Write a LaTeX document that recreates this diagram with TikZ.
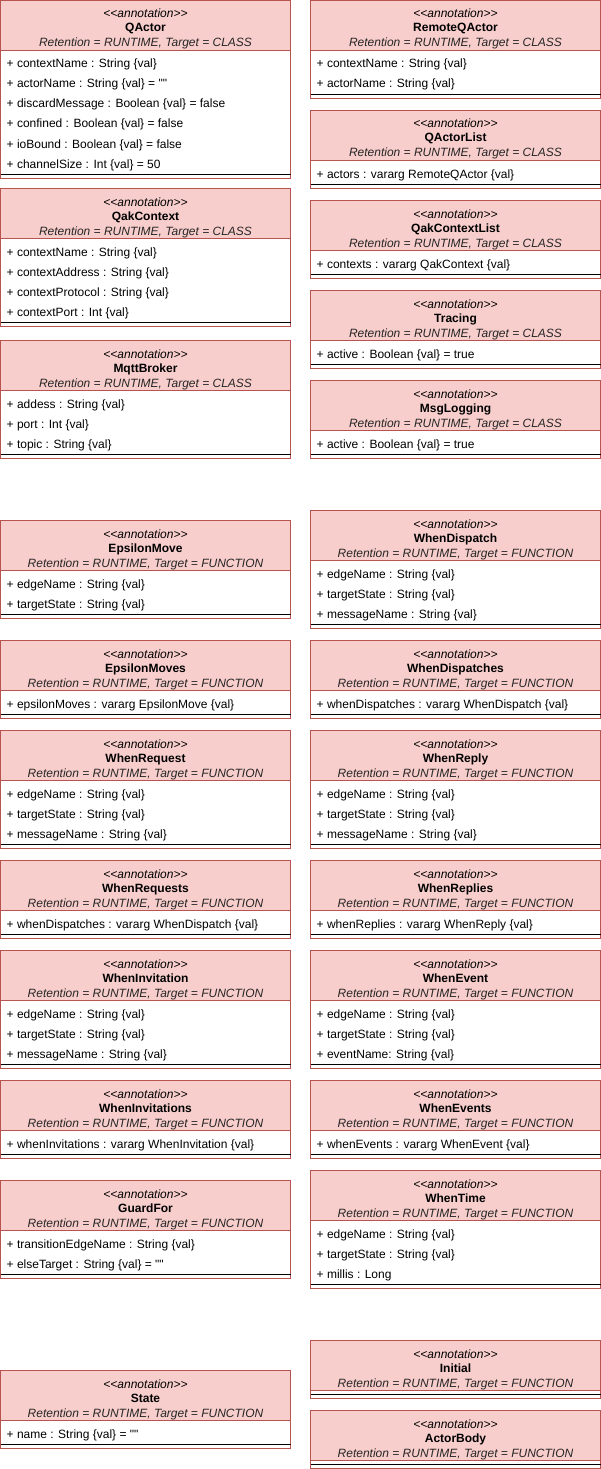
\documentclass[tikz,border=0pt]{standalone}
\usepackage{fontspec}
\setmainfont{Liberation Sans}[Ligatures=TeXOff]
\usepackage{tikz}
\usetikzlibrary{positioning}
\definecolor{annored}{HTML}{B85450}
\definecolor{annopink}{HTML}{F8CECC}
\tikzset{
    annobody/.style={draw=annored, fill=white, line width=1pt, minimum width=290pt, inner sep=0pt, outer sep=0pt},
    annohead/.style={draw=annored, fill=annopink, line width=1pt, minimum width=290pt, minimum height=50pt, inner sep=0pt, outer sep=0pt},
    annostereo/.style={anchor=base, inner sep=0pt, font=\fontsize{12}{14}\selectfont\itshape},
    annoname/.style={anchor=base, inner sep=0pt, font=\fontsize{12}{14}\selectfont\bfseries},
    annotag/.style={anchor=base, inner sep=0pt, text=black!85, font=\fontsize{12}{14}\selectfont\itshape},
    annorow/.style={anchor=base west, inner sep=0pt, font=\fontsize{12}{14}\selectfont},
    annosep/.style={draw=black, line width=1pt},
}
% #1 name, #2 x, #3 y, #4 title, #5 target, #6 number of rows, #7 rows
\newcommand{\annobox}[7]{%
\begin{scope}[shift={(#2,#3)}]
	\pgfmathsetmacro\boxh{58+20*#6}
	\node[annobody, minimum height=\boxh pt] (#1-body) at (145,\boxh/2) {};
	\node[annohead] (#1) at (145,25) {};
	\node[annostereo] (#1-st) at (145,17.5) {<<annotation>>};
	\node[annoname] (#1-name) at (145,31.5) {#4};
	\node[annotag] (#1-tag) at (145,46.5) {Retention = RUNTIME, Target = #5};
	\draw[annosep] (0,\boxh-4) -- (290,\boxh-4);
	\foreach \row [count=\i from 0] in {#7} {\node[annorow] (#1-r\i) at (6,67.5+20*\i) {\row};}
\end{scope}}
\begin{document}
\begin{tikzpicture}[x=1pt, y=-1pt]
	\useasboundingbox (0,0) rectangle (601,1469);
	% left column
	\annobox{qactor}{0.5}{0.5}{QActor}{CLASS}{6}{{+ contextName : String \{val\}}, {+ actorName : String \{val\} = ""}, {+ discardMessage : Boolean \{val\} = false}, {+ confined : Boolean \{val\} = false}, {+ ioBound : Boolean \{val\} = false}, {+ channelSize : Int \{val\} = 50}}
	\annobox{qakctx}{0.5}{188.5}{QakContext}{CLASS}{4}{{+ contextName : String \{val\}}, {+ contextAddress : String \{val\}}, {+ contextProtocol : String \{val\}}, {+ contextPort : Int \{val\}}}
	\annobox{mqtt}{0.5}{340.5}{MqttBroker}{CLASS}{3}{{+ addess : String \{val\}}, {+ port : Int \{val\}}, {+ topic : String \{val\}}}
	\annobox{epsmove}{0.5}{520.5}{EpsilonMove}{FUNCTION}{2}{{+ edgeName : String \{val\}}, {+ targetState : String \{val\}}}
	\annobox{epsmoves}{0.5}{640.5}{EpsilonMoves}{FUNCTION}{1}{{+ epsilonMoves : vararg EpsilonMove \{val\}}}
	\annobox{wrequest}{0.5}{730.5}{WhenRequest}{FUNCTION}{3}{{+ edgeName : String \{val\}}, {+ targetState : String \{val\}}, {+ messageName : String \{val\}}}
	\annobox{wrequests}{0.5}{860.5}{WhenRequests}{FUNCTION}{1}{{+ whenDispatches : vararg WhenDispatch \{val\}}}
	\annobox{winvite}{0.5}{950.5}{WhenInvitation}{FUNCTION}{3}{{+ edgeName : String \{val\}}, {+ targetState : String \{val\}}, {+ messageName : String \{val\}}}
	\annobox{winvites}{0.5}{1080.5}{WhenInvitations}{FUNCTION}{1}{{+ whenInvitations : vararg WhenInvitation \{val\}}}
	\annobox{guard}{0.5}{1180.5}{GuardFor}{FUNCTION}{2}{{+ transitionEdgeName : String \{val\}}, {+ elseTarget : String \{val\} = ""}}
	\annobox{state}{0.5}{1370.5}{State}{FUNCTION}{1}{{+ name : String \{val\} = ""}}
	% right column
	\annobox{remote}{310.5}{0.5}{RemoteQActor}{CLASS}{2}{{+ contextName : String \{val\}}, {+ actorName : String \{val\}}}
	\annobox{qalist}{310.5}{110.5}{QActorList}{CLASS}{1}{{+ actors : vararg RemoteQActor \{val\}}}
	\annobox{ctxlist}{310.5}{200.5}{QakContextList}{CLASS}{1}{{+ contexts : vararg QakContext \{val\}}}
	\annobox{tracing}{310.5}{290.5}{Tracing}{CLASS}{1}{{+ active : Boolean \{val\} = true}}
	\annobox{msglog}{310.5}{380.5}{MsgLogging}{CLASS}{1}{{+ active : Boolean \{val\} = true}}
	\annobox{wdispatch}{310.5}{510.5}{WhenDispatch}{FUNCTION}{3}{{+ edgeName : String \{val\}}, {+ targetState : String \{val\}}, {+ messageName : String \{val\}}}
	\annobox{wdispatches}{310.5}{640.5}{WhenDispatches}{FUNCTION}{1}{{+ whenDispatches : vararg WhenDispatch \{val\}}}
	\annobox{wreply}{310.5}{730.5}{WhenReply}{FUNCTION}{3}{{+ edgeName : String \{val\}}, {+ targetState : String \{val\}}, {+ messageName : String \{val\}}}
	\annobox{wreplies}{310.5}{860.5}{WhenReplies}{FUNCTION}{1}{{+ whenReplies : vararg WhenReply \{val\}}}
	\annobox{wevent}{310.5}{950.5}{WhenEvent}{FUNCTION}{3}{{+ edgeName : String \{val\}}, {+ targetState : String \{val\}}, {+ eventName: String \{val\}}}
	\annobox{wevents}{310.5}{1080.5}{WhenEvents}{FUNCTION}{1}{{+ whenEvents : vararg WhenEvent \{val\}}}
	\annobox{wtime}{310.5}{1170.5}{WhenTime}{FUNCTION}{3}{{+ edgeName : String \{val\}}, {+ targetState : String \{val\}}, {+ millis : Long}}
	\annobox{initial}{310.5}{1340.5}{Initial}{FUNCTION}{0}{}
	\annobox{body}{310.5}{1410.5}{ActorBody}{FUNCTION}{0}{}
\end{tikzpicture}
\end{document}
